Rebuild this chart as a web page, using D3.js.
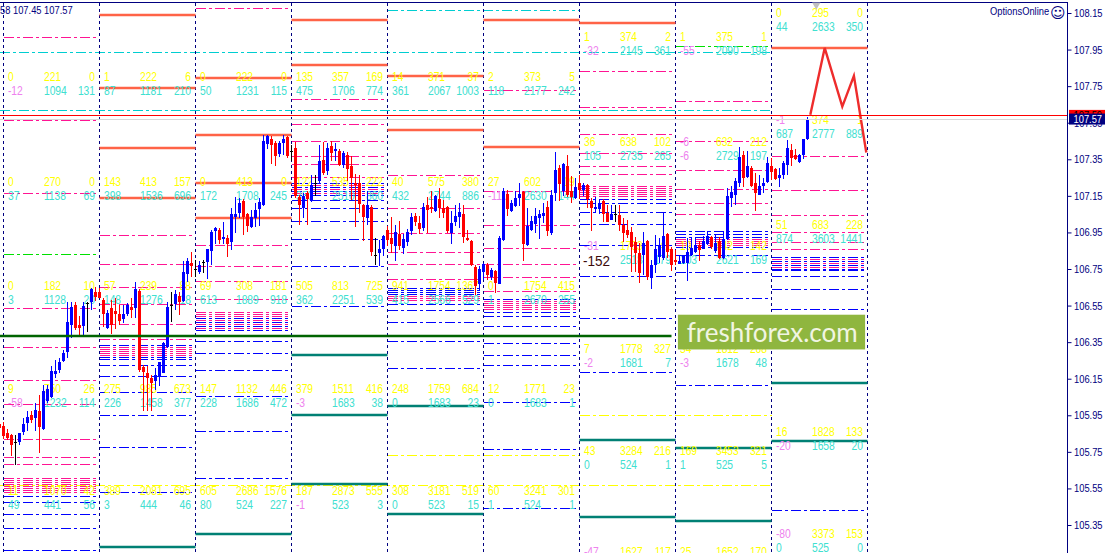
<!DOCTYPE html>
<html>
<head>
<meta charset="utf-8">
<script src="https://cdn.jsdelivr.net/npm/d3@7"></script>
<style>
html, body { margin: 0; padding: 0; background: #fff; overflow: hidden; }
svg { display: block; }
text { font-family: "Liberation Sans", Arial, sans-serif; }
</style>
</head>
<body>
<div id="chart"></div>
<script>
// H1 bars as [open, high, low, close], one list per day
const barsPrev = [[105.902, 105.913, 105.869, 105.880]];
const bars0 = [[105.891,105.913,105.820,105.836],[105.853,105.875,105.815,105.825],[105.842,105.847,105.727,105.788],[105.804,105.842,105.678,105.804],[105.804,105.853,105.788,105.853],[105.858,105.935,105.842,105.902],[105.907,105.973,105.864,105.940],[105.951,105.973,105.907,105.924],[105.935,106.017,105.864,105.979],[105.973,106.061,105.744,105.886],[105.875,106.116,105.869,106.083],[106.028,106.116,106.017,106.094],[106.050,106.219,106.044,106.193],[106.176,106.252,106.154,106.193],[106.198,106.263,106.182,106.241],[106.247,106.307,106.241,106.291],[106.296,106.569,106.263,106.460],[106.444,106.569,106.373,106.542],[106.553,106.569,106.416,106.427],[106.444,106.493,106.378,106.427],[106.438,106.569,106.384,106.547],[106.564,106.569,106.405,106.564],[106.569,106.646,106.526,106.641],[106.624,106.651,106.575,106.597]];
const bars1 = [[106.624,106.646,106.591,106.591],[106.580,106.591,106.433,106.504],[106.427,106.526,106.422,106.509],[106.537,106.580,106.395,106.444],[106.520,106.591,106.422,106.504],[106.504,106.553,106.444,106.466],[106.477,106.553,106.455,106.504],[106.504,106.564,106.493,106.553],[106.542,106.591,106.482,106.526],[106.537,106.679,106.482,106.641],[106.630,106.641,106.187,106.198],[106.214,106.225,105.973,106.187],[106.182,106.219,105.973,106.154],[106.154,106.171,105.973,106.127],[106.138,106.209,106.088,106.171],[106.160,106.241,106.110,106.241],[106.182,106.351,106.182,106.346],[106.324,106.569,106.318,106.542],[106.553,106.624,106.460,106.553],[106.558,106.635,106.526,106.613],[106.602,106.624,106.498,106.569],[106.575,106.794,106.569,106.733],[106.722,106.810,106.679,106.794],[106.783,106.843,106.706,106.766]];
const bars2 = [[106.750,106.799,106.706,106.750],[106.733,106.794,106.722,106.772],[106.788,106.799,106.728,106.788],[106.788,106.860,106.695,106.860],[106.849,106.963,106.772,106.952],[106.958,106.980,106.887,106.974],[106.963,106.974,106.887,106.909],[106.914,107.007,106.887,106.925],[106.920,106.936,106.816,106.887],[106.898,107.084,106.854,107.051],[107.035,107.144,106.947,107.051],[107.057,107.138,107.029,107.111],[107.122,107.133,106.936,107.035],[107.051,107.057,106.952,106.985],[106.980,107.073,106.974,107.035],[107.029,107.111,106.980,107.073],[107.078,107.138,106.985,107.116],[107.100,107.483,107.094,107.450],[107.433,107.483,107.406,107.477],[107.461,107.477,107.324,107.428],[107.439,107.450,107.313,107.368],[107.379,107.450,107.362,107.439],[107.439,107.483,107.373,107.461],[107.472,107.477,107.357,107.368]];
const bars3 = [[107.395,107.428,107.340,107.395],[107.412,107.444,107.138,107.149],[107.144,107.155,106.990,107.100],[107.084,107.166,107.029,107.149],[107.166,107.177,106.990,107.133],[107.122,107.264,107.116,107.210],[107.220,107.264,107.149,107.220],[107.231,107.428,107.220,107.340],[107.346,107.444,107.264,107.275],[107.286,107.439,107.264,107.412],[107.423,107.450,107.340,107.384],[107.395,107.439,107.340,107.406],[107.395,107.406,107.313,107.318],[107.318,107.395,107.302,107.384],[107.373,107.390,107.231,107.297],[107.313,107.368,107.127,107.248],[107.220,107.269,106.980,107.210],[107.220,107.264,107.057,107.105],[107.100,107.105,106.903,107.035],[107.029,107.177,106.990,107.100],[107.089,107.100,106.821,106.843],[106.827,106.920,106.772,106.827],[106.838,106.909,106.766,106.860],[106.860,106.936,106.821,106.930]];
const bars4 = [[106.963,106.985,106.876,106.909],[106.920,107.035,106.838,106.887],[106.876,106.990,106.794,106.952],[106.941,107.012,106.854,106.876],[106.865,106.941,106.832,106.914],[106.898,106.969,106.876,106.952],[106.958,107.057,106.936,107.035],[107.040,107.057,106.985,107.007],[107.001,107.040,106.941,106.969],[106.974,107.111,106.958,107.089],[107.100,107.144,106.947,107.073],[107.089,107.177,107.057,107.078],[107.067,107.155,107.062,107.149],[107.133,107.193,107.029,107.084],[107.084,107.127,107.029,107.057],[107.089,107.094,106.947,106.958],[106.947,107.067,106.887,107.001],[107.007,107.100,106.985,107.040],[107.035,107.111,106.974,107.062],[107.051,107.100,106.892,106.925],[106.920,106.963,106.903,106.909],[106.903,106.909,106.766,106.772],[106.761,106.772,106.608,106.657],[106.668,106.766,106.630,106.750]];
const bars5 = [[106.733,106.783,106.690,106.777],[106.772,106.783,106.690,106.717],[106.706,106.755,106.690,106.744],[106.739,106.744,106.619,106.673],[106.668,106.930,106.668,106.920],[106.909,107.193,106.903,107.177],[107.160,107.182,107.040,107.078],[107.067,107.127,107.062,107.111],[107.094,107.177,107.089,107.138],[107.138,107.220,107.094,107.160],[107.171,107.177,106.794,106.887],[106.881,107.084,106.876,106.985],[106.963,107.040,106.958,107.012],[106.996,107.084,106.947,107.040],[107.029,107.073,106.914,107.051],[107.040,107.111,107.001,107.057],[107.089,107.122,106.930,106.958],[106.947,107.182,106.936,107.155],[107.166,107.390,107.122,107.291],[107.302,107.318,107.122,107.215],[107.177,107.330,107.149,107.324],[107.313,107.373,107.144,107.155],[107.177,107.259,107.111,107.144],[107.138,107.248,107.133,107.198]];
const bars6 = [[107.220,107.264,107.133,107.182],[107.182,107.220,107.149,107.210],[107.210,107.215,107.084,107.133],[107.122,107.138,106.958,107.084],[107.078,107.144,107.062,107.089],[107.078,107.127,107.051,107.111],[107.122,107.133,107.007,107.051],[107.057,107.100,107.007,107.007],[107.018,107.100,107.018,107.051],[107.051,107.100,107.007,107.051],[107.045,107.100,106.958,106.990],[106.990,107.029,106.898,106.947],[106.963,107.018,106.920,106.936],[106.952,106.980,106.733,106.870],[106.898,106.925,106.733,106.838],[106.838,106.892,106.673,106.728],[106.827,106.952,106.717,106.892],[106.903,106.909,106.690,106.706],[106.701,106.799,106.641,106.772],[106.772,106.936,106.728,106.860],[106.816,106.920,106.783,106.881],[106.810,107.057,106.799,106.930],[106.941,106.947,106.810,106.843],[106.860,106.870,106.739,106.772]];
const bars7 = [[106.799,106.854,106.772,106.788],[106.777,106.821,106.777,106.794],[106.783,106.827,106.777,106.827],[106.783,106.920,106.684,106.843],[106.827,106.920,106.827,106.865],[106.843,106.925,106.838,106.881],[106.881,106.903,106.794,106.854],[106.860,106.930,106.860,106.903],[106.887,106.958,106.881,106.930],[106.925,106.930,106.860,106.870],[106.849,106.936,106.838,106.892],[106.903,106.925,106.805,106.810],[106.810,106.952,106.805,106.914],[106.914,107.193,106.909,107.149],[107.138,107.204,107.089,107.171],[107.155,107.248,107.100,107.231],[107.220,107.417,107.198,107.362],[107.373,107.395,107.198,107.248],[107.253,107.395,107.248,107.313],[107.302,107.313,107.198,107.204],[107.220,107.275,107.067,107.166],[107.155,107.264,107.155,107.204],[107.204,107.248,107.166,107.220],[107.226,107.362,107.220,107.330]];
const bars8 = [[107.313,107.357,107.237,107.280],[107.297,107.302,107.237,107.243],[107.248,107.302,107.198,107.264],[107.264,107.340,107.242,107.330],[107.318,107.455,107.264,107.412],[107.401,107.433,107.313,107.357],[107.373,107.406,107.346,107.351],[107.335,107.379,107.330,107.373],[107.373,107.461,107.351,107.461],[107.461,107.581,107.455,107.570]];

// Levels per day (index = day)
const salmonLevels = [[],[108.139,107.740,107.412,107.138],[107.794,107.483,107.220,107.029],[108.112,107.866],[107.805,107.510],[108.112,107.417],[108.095],[],[107.959]];
const tealLevels = [[],[105.229],[105.301],[106.280,105.951,105.574],[106.001,105.410],[],[105.815,105.394],[105.771,105.372],[106.127,105.809]];
const pinkLevels = [
    [108.019,107.565,107.165,106.537,106.324,106.143,106.012,105.820,105.722,105.683,105.607,105.596,105.585,105.574,105.563,105.552,105.541,105.530],
    [106.936,106.777,106.651,106.558,106.449,106.389,106.367,106.324,106.313,106.302,106.291,106.280],
    [108.177,106.881,106.766,106.684,106.586,106.515,106.504,106.493,106.471,106.449,106.427],
    [107.680,107.543,107.450,107.368,107.324,107.253,107.209,107.187,107.166],
    [107.264,107.084,106.947,106.843,106.777,106.695,106.602,106.591,106.580],
    [107.729,107.177,106.990,106.865,106.777,106.706,106.630,106.575,106.564,106.553,106.542,106.531],
    [107.833,107.636,107.488,107.384,107.313,107.269,107.204,107.193,107.182,107.171,107.160,107.149],
    [107.669,107.450,107.291,107.187,107.111,107.051,106.914,106.903,106.892,106.881],
    [107.368,107.182,107.045,106.952,106.898,106.860,106.805,106.783,106.761]
];
const blueLevels = [
    [105.508,105.475,105.410,105.334,105.213],
    [106.335,106.269,106.258,106.225,106.165,106.077,105.951,105.776,105.530],
    [106.482,106.460,106.438,106.416,106.384,106.356,106.291,106.198,106.055,105.864,105.607],
    [107.220,107.198,107.177,107.155,107.127,107.084,107.012,106.914,106.766,106.547],
    [106.646,106.635,106.624,106.613,106.558,106.526,106.460,106.356,106.209],
    [106.586,106.515,106.493,106.438,106.345,106.280,106.225,106.023,105.765,105.443],
    [107.133,107.111,107.062,106.996,106.881,106.712,106.482,106.187],
    [106.958,106.941,106.925,106.870,106.827,106.733,106.591,106.116],
    [106.816,106.794,106.772,106.750,106.744,106.712,106.641,106.531,105.432]
];
const greenLevels = [[106.832],[],[],[],[],[],[],[107.969],[]];

// Levels that run over several days: price, first day, last day
const cyanSpans = [[108.166,4,5],[107.938,0,7],[107.622,0,7]];
const yellowSpans = [[105.568,0,7],[105.733,4,5],[105.951,6,7]];

const bidPrice = 107.57;
const askPrice = 107.59;
const supportPrice = 106.384;
const supportLastBar = 167;

// Forecast zigzag
const zigzagBars = [201.7,205.3,209.7,212.6,215.7];
const zigzagPrices = [107.593,107.959,107.638,107.806,107.387];

const priceTicks = [108.15,107.95,107.75,107.55,107.35,107.15,106.95,106.75,106.55,106.35,106.15,105.95,105.75,105.55,105.35];

// Volume tables: rows of each day (price the row hangs on) and [upper, lower] triples
const statPrices = [
    [107.800,107.227,106.658,106.096,105.538],
    [107.800,107.227,106.658,106.096,105.538],
    [107.800,107.227,106.658,106.096,105.538],
    [107.800,107.227,106.658,106.096,105.538],
    [107.800,107.227,106.658,106.096,105.538],
    [107.800,107.227,106.658,106.096,105.538],
    [108.019,107.445,106.877,106.314,105.757,105.205],
    [108.019,107.445,106.877,106.314,105.757,105.205],
    [108.150,107.565,106.992,105.861,105.303]
];
const statValues = [
    [[[0,221,0],[-12,1094,131]],[[0,270,0],[37,1138,69]],[[0,182,10],[3,1128,20]],[[9,750,26],[-58,1232,114]],[[11,1070,42],[49,441,56]]],
    [[[1,222,6],[87,1181,210]],[[143,413,157],[398,1536,696]],[[57,239,88],[148,1276,18]],[[275,985,673],[226,1458,377]],[[389,2081,695],[3,444,46]]],
    [[[0,222,0],[50,1231,115]],[[0,413,0],[172,1708,245]],[[69,308,181],[613,1889,918]],[[147,1132,446],[228,1686,472]],[[605,2686,1576],[80,524,227]]],
    [[[135,357,169],[475,1706,774]],[[122,535,222],[350,2510,860]],[[505,813,725],[362,2251,539]],[[379,1511,416],[-3,1683,38]],[[187,2873,555],[-1,523,3]]],
    [[[14,371,37],[361,2067,1003]],[[40,575,380],[432,2744,886]],[[941,1754,1367],[415,2566,529]],[[248,1759,684],[0,1683,23]],[[308,3181,519],[0,523,15]]],
    [[[2,373,5],[118,2177,242]],[[27,602,19],[-110,2630,144]],[[0,1754,415],[1,2670,255]],[[12,1771,23],[0,1683,1]],[[60,3241,301],[1,524,1]]],
    [[[1,374,2],[-32,2145,361]],[[36,638,102],[105,2735,265]],[[-31,1763,41],[null,2518,179]],[[7,1778,327],[-2,1681,7]],[[43,3284,216],[0,524,1]],[[-47,1627,117],[null,null,null]]],
    [[[1,375,1],[-55,2090,198]],[[-6,632,212],[-6,2729,197]],[[19,642,142],[103,2621,169]],[[34,1812,268],[-3,1678,48]],[[169,3453,321],[1,525,5]],[[25,1652,170],[null,null,null]]],
    [[[0,295,0],[44,2633,350]],[[-1,374,1],[687,2777,889]],[[51,683,228],[874,3603,1441]],[[16,1828,133],[-20,1658,20]],[[-80,3373,153],[0,525,0]]]
];

const width = 1107, height = 553;
const barsPerDay = 24;
const dayCount = 9;
const frameRight = 1067.5;

let svg = d3.select("#chart")
    .append("svg")
    .attr("width", width)
    .attr("height", height);

// One bar every 4px, day separators every 24 bars
let x = d3.scaleLinear().domain([0, barsPerDay]).range([3.5, 99.5]);
let y = d3.scaleLinear().domain([105.35, 108.15]).range([525, 13]);

let days = d3.range(dayCount);

// Flat list of per-day levels
function dayLevels(levels, color) {
    let out = [];
    levels.forEach(function (prices, day) {
        prices.forEach(function (p) {
            out.push({day: day, price: p, color: color});
        });
    });
    return out;
}

let thinLines = svg.append("g")
    .attr("shape-rendering", "crispEdges")
    .attr("fill", "none");

thinLines.selectAll("line.thin")
    .data([].concat(dayLevels(pinkLevels, "#ff1493"), dayLevels(blueLevels, "#0000ff"), dayLevels(greenLevels, "#00e000")))
    .enter()
    .append("line")
    .attr("class", "thin")
    .attr("x1", d => x(d.day * barsPerDay))
    .attr("x2", d => x((d.day + 1) * barsPerDay) - 3)
    .attr("y1", d => Math.round(y(d.price)) + 0.5)
    .attr("y2", d => Math.round(y(d.price)) + 0.5)
    .attr("stroke", d => d.color)
    .attr("stroke-dasharray", "10 3 3 3");

// Cyan and yellow spans over several days
let spans = cyanSpans.map(d => ({s: d, color: "#00ced1"})).concat(yellowSpans.map(d => ({s: d, color: "#ffff00"})));
thinLines.selectAll("line.span")
    .data(spans)
    .enter()
    .append("line")
    .attr("class", "span")
    .attr("x1", d => d.s[1] === 0 ? x(-1) : x(d.s[1] * barsPerDay))
    .attr("x2", d => x((d.s[2] + 1) * barsPerDay))
    .attr("y1", d => Math.round(y(d.s[0])) + 0.5)
    .attr("y2", d => Math.round(y(d.s[0])) + 0.5)
    .attr("stroke", d => d.color)
    .attr("stroke-dasharray", "10 3 3 3");

// Day separators
thinLines.selectAll("line.sep")
    .data(d3.range(dayCount + 1))
    .enter()
    .append("line")
    .attr("class", "sep")
    .attr("x1", d => x(d * barsPerDay))
    .attr("x2", d => x(d * barsPerDay))
    .attr("y1", 3)
    .attr("y2", height)
    .attr("stroke", "#000080")
    .attr("stroke-dasharray", "3 3");

// Thick levels
svg.append("g").selectAll("line")
    .data([].concat(dayLevels(salmonLevels, "#ff6347"), dayLevels(tealLevels, "#008074")))
    .enter()
    .append("line")
    .attr("x1", d => x(d.day * barsPerDay))
    .attr("x2", d => x((d.day + 1) * barsPerDay))
    .attr("y1", d => Math.round(y(d.price)))
    .attr("y2", d => Math.round(y(d.price)))
    .attr("stroke", d => d.color)
    .attr("stroke-width", 2.5);

// Volume tables
let statCells = [];
days.forEach(function (day) {
    statValues[day].forEach(function (row, r) {
        row.forEach(function (triple, lower) {
            triple.forEach(function (v, col) {
                if (v === null) return;
                statCells.push({day: day, price: statPrices[day][r], lower: lower, col: col, value: v});
            });
        });
    });
});

// Left and middle columns start at a fixed bar, right column ends at one
const statColBars = [1.1, 10.1, 22.9];

svg.append("g").selectAll("text")
    .data(statCells)
    .enter()
    .append("text")
    .attr("transform", function (d) {
        let tx = x(d.day * barsPerDay + statColBars[d.col]);
        let ty = y(d.price) + 4 + d.lower * 14;
        return `translate(${tx},${ty}) scale(0.86,1)`;
    })
    .attr("text-anchor", d => d.col === 2 ? "end" : "start")
    .style("font-size", "12px")
    .attr("fill", function (d) {
        if (d.value < 0) return "#ee82ee";
        return d.lower ? "#40e0d0" : "#ffff00";
    })
    .text(d => d.value);

// Lone dark delta label
svg.append("text")
    .attr("transform", `translate(${x(144.9)},${y(106.80) + 6}) scale(0.9,1)`)
    .style("font-size", "15px")
    .attr("fill", "#3c0a0a")
    .text("-152");

// Candles
let allBars = d3.merge([barsPrev, bars0, bars1, bars2, bars3, bars4, bars5, bars6, bars7, bars8])
    .map(function (b, i) {
        return {bar: i - 1, open: b[0], high: b[1], low: b[2], close: b[3]};
    });

function barColor(d) {
    if (d.open === d.close) return "#000000";
    return d.close > d.open ? "#0000ff" : "#ff0000";
}

let candles = svg.append("g")
    .attr("shape-rendering", "crispEdges")
    .selectAll("g")
    .data(allBars)
    .enter()
    .append("g");

candles.append("line")
    .attr("x1", d => x(d.bar))
    .attr("x2", d => x(d.bar))
    .attr("y1", d => y(d.high))
    .attr("y2", d => y(d.low))
    .attr("stroke", barColor);

candles.append("rect")
    .attr("x", d => x(d.bar) - 1.5)
    .attr("width", 3)
    .attr("y", d => y(Math.max(d.open, d.close)))
    .attr("height", d => Math.max(1, Math.abs(y(d.open) - y(d.close))))
    .attr("fill", barColor);

// Support line sits over the candles
svg.append("line")
    .attr("x1", 0)
    .attr("x2", x(supportLastBar))
    .attr("y1", Math.round(y(supportPrice)))
    .attr("y2", Math.round(y(supportPrice)))
    .attr("stroke", "#006400")
    .attr("stroke-width", 2.5);

// Forecast zigzag
let zigzag = d3.line()
    .x(d => x(d[0]))
    .y(d => y(d[1]));

svg.append("path")
    .attr("d", zigzag(d3.zip(zigzagBars, zigzagPrices)))
    .attr("fill", "none")
    .attr("stroke", "#ee2c2c")
    .attr("stroke-width", 2.4);

// Ask and bid lines
svg.append("line")
    .attr("x1", 0).attr("x2", frameRight)
    .attr("y1", Math.round(y(askPrice)) + 0.5).attr("y2", Math.round(y(askPrice)) + 0.5)
    .attr("stroke", "#ff0000")
    .attr("shape-rendering", "crispEdges");
svg.append("line")
    .attr("x1", 0).attr("x2", frameRight)
    .attr("y1", Math.round(y(bidPrice)) + 0.5).attr("y2", Math.round(y(bidPrice)) + 0.5)
    .attr("stroke", "#d8d8d8")
    .attr("shape-rendering", "crispEdges");

// Frame
svg.append("line")
    .attr("x1", 0).attr("x2", frameRight).attr("y1", 2.5).attr("y2", 2.5)
    .attr("stroke", "#000080");
svg.append("line")
    .attr("x1", frameRight).attr("x2", frameRight).attr("y1", 2).attr("y2", height)
    .attr("stroke", "#000080")
    .attr("stroke-width", 1);

// Price axis
let axis = svg.append("g")
    .attr("transform", `translate(${frameRight},0)`)
    .call(d3.axisRight(y).tickValues(priceTicks).tickFormat(d3.format(".2f")).tickSize(4));
axis.select(".domain").remove();
axis.selectAll("line").attr("stroke", "#000080");
axis.selectAll("text")
    .attr("x", 6.5 / 0.85)
    .attr("transform", "scale(0.85,1)")
    .attr("fill", "#000080")
    .style("font-size", "11px")
    .style("font-family", "'Liberation Sans', Arial, sans-serif");

// Small grey marker at the top of the forecast
svg.append("path")
    .attr("d", d3.symbol().type(d3.symbolTriangle).size(30))
    .attr("transform", `translate(${x(203.2)},5) rotate(180)`)
    .attr("fill", "#c0c0c0");

// Watermark
let badge = svg.append("g");
badge.append("rect")
    .attr("x", x(168.6))
    .attr("width", x(215.4) - x(168.6))
    .attr("y", y(106.50))
    .attr("height", y(106.31) - y(106.50))
    .attr("fill", "#8fb63f");
badge.append("text")
    .attr("x", x(170.8))
    .attr("y", y(106.35))
    .attr("textLength", 171)
    .attr("lengthAdjust", "spacingAndGlyphs")
    .style("font-family", "Lato, 'Open Sans', sans-serif")
    .style("font-size", "27px")
    .attr("fill", "#f1f5e2")
    .text("freshforex.com");

// Bid and ask tags
function priceTag(price, fill, color) {
    svg.append("rect")
        .attr("x", frameRight + 1.5)
        .attr("y", y(price) - 5.5)
        .attr("width", 36)
        .attr("height", 11)
        .attr("fill", fill);
    svg.append("text")
        .attr("transform", `translate(${frameRight + 6},${y(price) + 4}) scale(0.85,1)`)
        .style("font-size", "11px")
        .attr("fill", color)
        .text(price.toFixed(2));
}
priceTag(askPrice, "#ff0000", "#000000");
priceTag(bidPrice, "#000080", "#ffffff");

// Corner labels
svg.append("text")
    .attr("transform", "translate(0,14) scale(0.85,1)")
    .style("font-size", "11px")
    .attr("fill", "#000080")
    .text("58 107.45 107.57");

svg.append("text")
    .attr("transform", "translate(990,15) scale(0.85,1)")
    .style("font-size", "11px")
    .attr("fill", "#000080")
    .text("OptionsOnline");

svg.append("text")
    .attr("x", 1050)
    .attr("y", 18)
    .style("font-family", "'DejaVu Sans', sans-serif")
    .style("font-size", "15px")
    .attr("fill", "#000080")
    .text("\u263A");
</script>
</body>
</html>
